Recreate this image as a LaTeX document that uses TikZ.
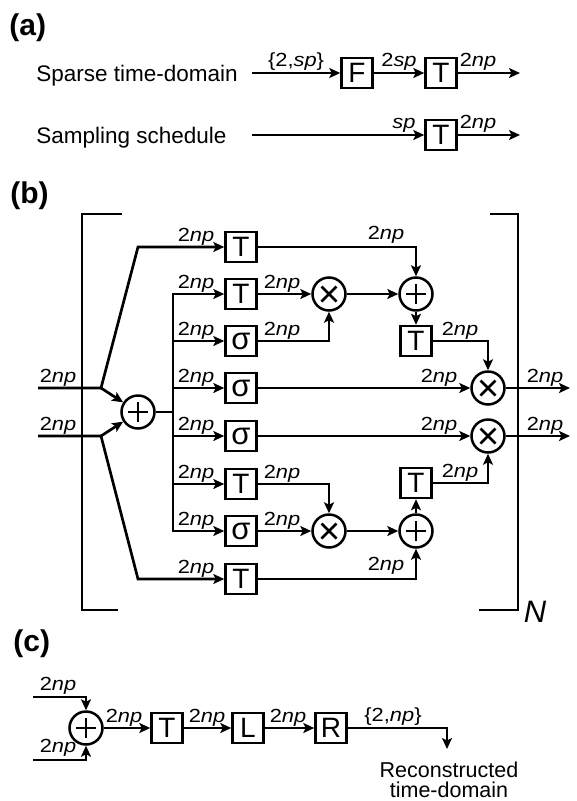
\documentclass[tikz,border=0pt]{standalone}
\usepackage{fontspec}
\setmainfont{Liberation Sans}
\usetikzlibrary{arrows.meta}
\newcommand\lb[1]{\scalebox{1.15}[1]{\fontsize{19}{19}\selectfont #1}}
\newcommand\tnp{\lb{2\textit{np}}}
\begin{document}
\begin{tikzpicture}[x=1pt,y=-1pt, line width=2.7pt,
  >={Stealth[length=11pt,width=10pt,inset=2.5pt]},
  box/.style={draw, line width=2.5pt, minimum width=31pt, minimum height=30pt, inner sep=0pt, font=\fontsize{28}{28}\selectfont},
  sbox/.style={box, font=\fontsize{31}{31}\selectfont},
  op/.style={circle, draw, line width=2.5pt, minimum size=33pt, inner sep=0pt},
  plus/.style={op, path picture={\draw[line width=2.5pt] ([xshift=-10pt]path picture bounding box.center) -- ([xshift=10pt]path picture bounding box.center) ([yshift=-10pt]path picture bounding box.center) -- ([yshift=10pt]path picture bounding box.center);}},
  times/.style={op, path picture={\draw[line width=2.5pt] ([shift={(-7.5pt,-7.5pt)}]path picture bounding box.center) -- ([shift={(7.5pt,7.5pt)}]path picture bounding box.center) ([shift={(-7.5pt,7.5pt)}]path picture bounding box.center) -- ([shift={(7.5pt,-7.5pt)}]path picture bounding box.center);}},
  lab/.style={inner sep=0pt, anchor=base},
  head/.style={inner sep=0pt, anchor=west, font=\fontsize{30}{30}\selectfont\bfseries},
  txta/.style={inner sep=0pt, anchor=base west, font=\fontsize{22.5}{22.5}\selectfont},
  txtc/.style={inner sep=0pt, anchor=base, font=\fontsize{21.5}{21.5}\selectfont}
]
\useasboundingbox (0,0) rectangle (576,801);

% ---------------- (a)
\node[head] (ha) at (8,28) {(a)};
\node[txta] (ta1) at (35,81) {Sparse time-domain};
\node[txta] (ta2) at (35,143) {Sampling schedule};
\coordinate (a1s) at (252,73);
\coordinate (a2s) at (252,135);
\node[box] (F) at (357,73) {F};
\node[box] (Ta1) at (441,73) {T};
\node[box] (Ta2) at (441,135) {T};
\coordinate (a1e) at (520,73);
\coordinate (a2e) at (520,135);
\draw[->] (a1s) -- (F);
\draw[->] (F) -- (Ta1);
\draw[->] (Ta1) -- (a1e);
\draw[->] (a2s) -- (Ta2);
\draw[->] (Ta2) -- (a2e);
\node[lab] (la1) at (296,66) {\lb{\{2,\textit{sp}\}}};
\node[lab] (la2) at (399,66) {\lb{2\textit{sp}}};
\node[lab] (la3) at (478,66) {\tnp};
\node[lab] (la4) at (404,128) {\lb{\textit{sp}}};
\node[lab] (la5) at (478,128) {\tnp};

% ---------------- (b)
\node[head] (hb) at (9,196) {(b)};
\draw (122,214) -- (82,214) -- (82,610) -- (118,610);
\draw (490,214) -- (518,214) -- (518,610) -- (479,610);
\node[inner sep=0pt, font=\fontsize{31}{31}\selectfont\itshape] (NN) at (535,612) {N};

\node[box] (B0) at (241,247) {T};
\node[box] (B1) at (241,294) {T};
\node[sbox] (B2) at (241,341) {σ};
\node[sbox] (B3) at (241,388) {σ};
\node[sbox] (B4) at (241,436) {σ};
\node[box] (B5) at (241,484) {T};
\node[sbox] (B6) at (241,531) {σ};
\node[box] (B7) at (241,579) {T};
\node[plus] (P0) at (138,412) {};
\node[times] (XA) at (329,294) {};
\node[plus] (PA) at (416,294) {};
\node[box] (TA) at (416,341) {T};
\node[times] (XB) at (488,388) {};
\node[times] (XC) at (488,436) {};
\node[box] (TB) at (416,483) {T};
\node[plus] (PB) at (416,531) {};
\node[times] (XD) at (329,531) {};

\coordinate (inU) at (38,388);
\coordinate (inL) at (38,436);
\coordinate (jU) at (101,388);
\coordinate (jL) at (101,436);
\coordinate (kU) at (138,247);
\coordinate (kL) at (138,579);
\coordinate (bm) at (173,412);
\coordinate (b2) at (173,341);
\coordinate (b3) at (173,388);
\coordinate (b4) at (173,436);
\coordinate (b5) at (173,484);
\coordinate (oB) at (570,388);
\coordinate (oC) at (570,436);

\draw[->] (inU) -- (jU) -- (kU) -- (B0);
\draw[->] (inL) -- (jL) -- (kL) -- (B7);
\draw[->] (jU) -- (P0);
\draw[->] (jL) -- (P0);
\draw (P0) -- (bm);
\draw[->] (bm) |- (B1);
\draw[->] (bm) |- (B6);
\draw[->] (b2) -- (B2);
\draw[->] (b3) -- (B3);
\draw[->] (b4) -- (B4);
\draw[->] (b5) -- (B5);

\draw[->] (B0) -| (PA);
\draw[->] (B1) -- (XA);
\draw[->] (B2) -| (XA);
\draw[->] (XA) -- (PA);
\draw[->] (PA) -- (TA);
\draw[->] (TA) -| (XB);
\draw[->] (B3) -- (XB);
\draw[->] (XB) -- (oB);
\draw[->] (B4) -- (XC);
\draw[->] (XC) -- (oC);
\draw[->] (TB) -| (XC);
\draw[->] (PB) -- (TB);
\draw[->] (B5) -| (XD);
\draw[->] (B6) -- (XD);
\draw[->] (XD) -- (PB);
\draw[->] (B7) -| (PB);

\node[lab] at (58,382) {\tnp};
\node[lab] at (58,430) {\tnp};
\foreach \r in {247,294,341,388,436,484,531,579} {\node[lab] at (196,\r-6) {\tnp};}
\foreach \r in {294,341,484,531} {\node[lab] at (282,\r-6) {\tnp};}
\node[lab] at (386,239) {\tnp};
\node[lab] at (460,335) {\tnp};
\node[lab] at (439,382) {\tnp};
\node[lab] at (439,430) {\tnp};
\node[lab] at (545,382) {\tnp};
\node[lab] at (545,430) {\tnp};
\node[lab] at (460,477) {\tnp};
\node[lab] at (386,570) {\tnp};

% ---------------- (c)
\node[head] (hc) at (12,644) {(c)};
\coordinate (ci1) at (33,697);
\coordinate (ci2) at (33,760);
\node[plus] (pc) at (86,728) {};
\node[box] (Tc) at (167,728) {T};
\node[box] (Lc) at (248,728) {L};
\node[box] (Rc) at (331,728) {R};
\coordinate (cend) at (447,749);
\draw[->] (ci1) -| (pc);
\draw[->] (ci2) -| (pc);
\draw[->] (pc) -- (Tc);
\draw[->] (Tc) -- (Lc);
\draw[->] (Lc) -- (Rc);
\draw[->] (Rc) -| (cend);
\node[lab] at (58,690) {\tnp};
\node[lab] at (58,752) {\tnp};
\node[lab] at (124,722) {\tnp};
\node[lab] at (207,722) {\tnp};
\node[lab] at (288,722) {\tnp};
\node[lab] at (393,721) {\lb{\{2,\textit{np}\}}};
\node[txtc] (rec) at (449,777) {Reconstructed};
\node[txtc] (rtd) at (449,797) {time-domain};
\end{tikzpicture}
\end{document}
